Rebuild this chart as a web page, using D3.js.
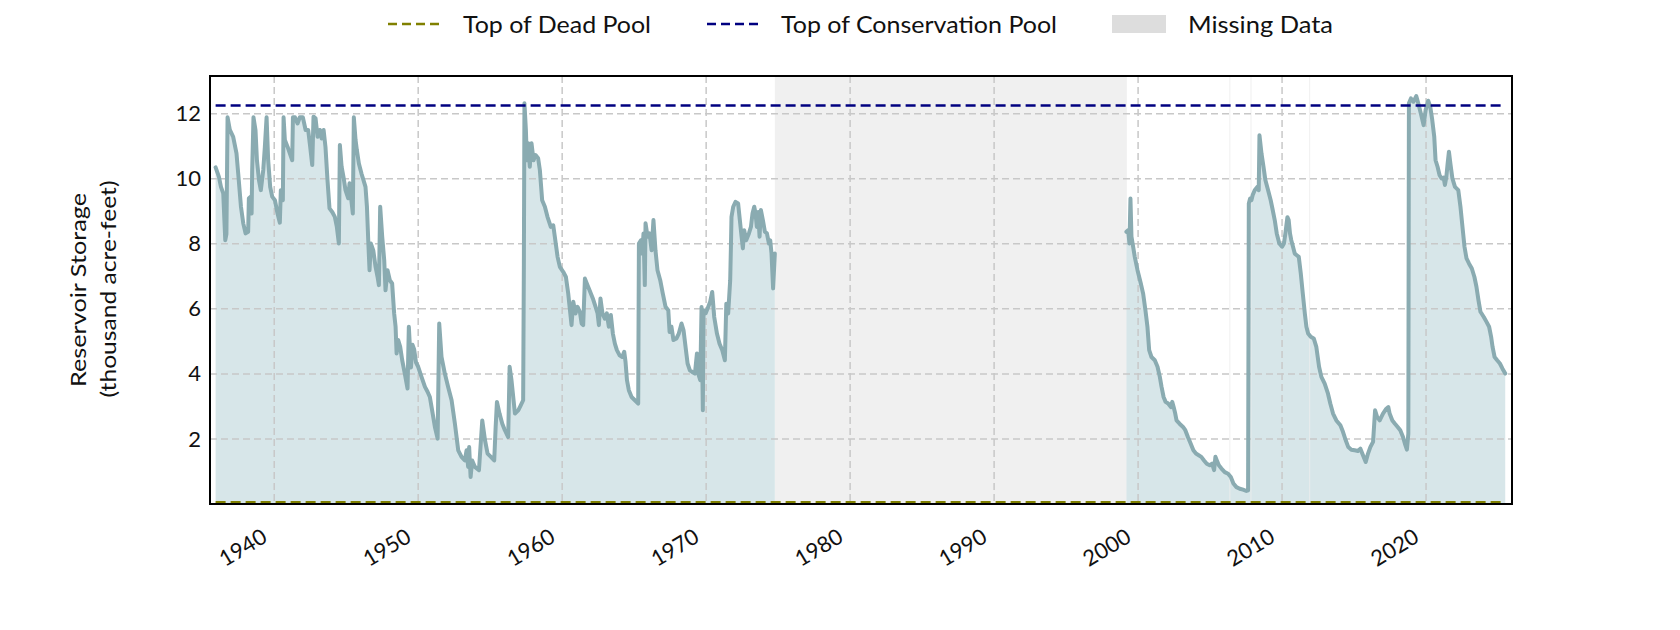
<!DOCTYPE html>
<html>
<head>
<meta charset="utf-8">
<script src="https://cdn.jsdelivr.net/npm/d3@7"></script>
<style>
  body { margin: 0; background: #fff; }
  svg text { font-family: Lato, "Noto Sans", sans-serif; fill: #111; }
</style>
</head>
<body>
<svg id="chart" width="1680" height="630"></svg>
<script>
// reservoir storage, thousand acre-feet: [decimal year, value]
const storageEarly = [
  [1935.93,10.35],[1936.16,10.06],[1936.3,9.75],[1936.46,9.55],[1936.6,8.11],[1936.68,8.3],[1936.76,11.89],
  [1936.92,11.5],[1937.15,11.29],[1937.38,10.78],[1937.5,10.16],[1937.69,9.14],[1937.85,8.63],[1938.01,8.32],
  [1938.19,8.37],[1938.24,9.4],[1938.38,9.45],[1938.43,8.93],[1938.47,10.27],[1938.56,11.89],[1938.7,11.5],
  [1938.8,10.57],[1938.94,9.96],[1939.07,9.65],[1939.24,10.27],[1939.35,10.98],[1939.47,11.89],[1939.58,10.57],
  [1939.72,9.75],[1939.86,9.45],[1940.05,9.34],[1940.23,8.93],[1940.39,8.65],[1940.46,9.65],[1940.6,9.34],
  [1940.65,11.89],[1940.74,11.19],[1940.93,10.98],[1941.25,10.57],[1941.3,11.89],[1941.44,11.89],[1941.62,11.7],
  [1941.78,11.89],[1941.99,11.89],[1942.18,11.5],[1942.36,11.5],[1942.5,10.98],[1942.64,10.42],[1942.73,11.91],
  [1942.87,11.86],[1943.01,11.29],[1943.17,11.5],[1943.29,11.24],[1943.43,11.5],[1943.56,10.98],[1943.7,9.96],
  [1943.84,9.09],[1944.03,8.98],[1944.21,8.83],[1944.35,8.52],[1944.49,8.01],[1944.56,11.04],[1944.68,10.37],
  [1944.81,10.06],[1944.95,9.65],[1945.14,9.4],[1945.23,9.86],[1945.37,9.29],[1945.46,8.93],[1945.53,11.89],
  [1945.65,11.19],[1945.74,10.88],[1945.88,10.47],[1946.06,10.16],[1946.2,9.96],[1946.34,9.75],[1946.44,9.14],
  [1946.53,8.11],[1946.62,7.19],[1946.71,8.01],[1946.88,7.8],[1947.04,7.29],[1947.18,6.98],[1947.27,6.73],
  [1947.36,9.14],[1947.5,8.22],[1947.64,7.5],[1947.73,6.57],[1947.87,7.19],[1948.03,6.88],[1948.19,6.78],
  [1948.33,5.86],[1948.43,5.45],[1948.5,4.63],[1948.61,5.04],[1948.75,4.83],[1948.89,4.42],[1949.07,4.01],
  [1949.26,3.55],[1949.35,5.45],[1949.5,4.2],[1949.6,4.9],[1949.72,4.75],[1949.85,4.35],[1950.0,4.22],
  [1950.23,3.91],[1950.47,3.6],[1950.65,3.45],[1950.81,3.29],[1950.93,2.98],[1951.16,2.37],[1951.35,2.01],
  [1951.46,5.55],[1951.62,4.52],[1951.85,4.01],[1952.08,3.6],[1952.32,3.19],[1952.55,2.47],[1952.78,1.65],
  [1953.01,1.45],[1953.24,1.34],[1953.36,1.65],[1953.47,1.14],[1953.54,1.75],[1953.64,0.83],[1953.75,1.34],
  [1953.94,1.14],[1954.22,1.04],[1954.45,2.57],[1954.64,1.96],[1954.82,1.55],[1955.05,1.45],[1955.28,1.34],
  [1955.38,2.37],[1955.47,3.14],[1955.65,2.78],[1955.84,2.47],[1956.02,2.27],[1956.25,2.06],[1956.35,4.22],
  [1956.48,3.81],[1956.72,2.78],[1956.95,2.88],[1957.13,3.04],[1957.29,3.19],[1957.34,7.39],[1957.38,12.32],
  [1957.48,11.5],[1957.55,10.57],[1957.64,11.09],[1957.75,10.37],[1957.87,11.09],[1958.01,10.57],[1958.15,10.73],
  [1958.33,10.63],[1958.45,10.27],[1958.61,9.34],[1958.8,9.14],[1958.98,8.83],[1959.21,8.52],[1959.38,8.57],
  [1959.49,8.22],[1959.68,7.6],[1959.84,7.29],[1960.07,7.14],[1960.26,6.98],[1960.42,6.47],[1960.54,5.96],
  [1960.65,5.5],[1960.77,6.22],[1960.93,5.86],[1961.07,6.06],[1961.23,5.91],[1961.35,5.55],[1961.46,5.5],
  [1961.58,6.93],[1961.76,6.73],[1961.95,6.52],[1962.13,6.32],[1962.32,6.06],[1962.46,5.86],[1962.55,5.5],
  [1962.66,6.32],[1962.8,5.86],[1962.96,5.7],[1963.1,5.86],[1963.24,5.45],[1963.38,5.81],[1963.52,5.24],
  [1963.66,4.93],[1963.8,4.73],[1963.99,4.57],[1964.17,4.52],[1964.31,4.68],[1964.4,4.37],[1964.5,3.81],
  [1964.63,3.5],[1964.82,3.29],[1965.05,3.19],[1965.28,3.09],[1965.33,8.01],[1965.47,8.11],[1965.56,7.7],
  [1965.65,8.32],[1965.74,6.73],[1965.79,8.63],[1965.93,8.22],[1966.07,8.32],[1966.21,7.8],[1966.34,8.73],
  [1966.48,7.8],[1966.62,7.19],[1966.81,6.88],[1966.99,6.47],[1967.18,6.06],[1967.37,5.96],[1967.46,5.29],
  [1967.59,5.45],[1967.73,5.04],[1967.94,5.09],[1968.1,5.24],[1968.29,5.55],[1968.43,5.34],[1968.57,4.83],
  [1968.71,4.32],[1968.87,4.11],[1969.03,4.06],[1969.22,4.01],[1969.36,4.63],[1969.45,4.01],[1969.59,3.81],
  [1969.68,6.06],[1969.77,2.88],[1969.82,5.96],[1969.96,5.86],[1970.14,6.06],[1970.28,6.22],[1970.42,6.52],
  [1970.56,5.75],[1970.75,5.24],[1970.93,4.93],[1971.12,4.73],[1971.3,4.42],[1971.4,6.16],[1971.53,5.86],
  [1971.67,6.88],[1971.72,7.91],[1971.76,8.83],[1971.88,9.14],[1972.04,9.29],[1972.22,9.24],[1972.34,8.73],
  [1972.46,8.22],[1972.55,7.86],[1972.64,8.42],[1972.78,8.11],[1972.97,8.32],[1973.11,8.52],[1973.22,8.93],
  [1973.34,9.14],[1973.43,8.93],[1973.52,8.52],[1973.61,8.98],[1973.71,8.22],[1973.8,9.04],[1973.94,8.73],
  [1974.08,8.37],[1974.22,8.32],[1974.36,8.01],[1974.45,8.11],[1974.54,7.7],[1974.65,6.63],[1974.77,7.7]
];

const storageRecent = [
  [1999.19,8.37],[1999.31,8.42],[1999.4,8.01],[1999.47,9.39],[1999.54,8.22],[1999.66,7.9],[1999.77,7.6],
  [1999.96,7.19],[2000.19,6.78],[2000.35,6.47],[2000.51,5.96],[2000.65,5.45],[2000.77,4.73],[2000.93,4.52],
  [2001.16,4.42],[2001.35,4.22],[2001.51,3.91],[2001.63,3.6],[2001.77,3.29],[2001.91,3.14],[2002.09,3.09],
  [2002.28,2.98],[2002.37,3.14],[2002.47,2.98],[2002.58,2.78],[2002.67,2.57],[2002.88,2.47],[2003.12,2.37],
  [2003.28,2.27],[2003.46,2.06],[2003.65,1.86],[2003.84,1.65],[2004.02,1.55],[2004.21,1.5],[2004.39,1.45],
  [2004.58,1.34],[2004.77,1.24],[2004.98,1.19],[2005.14,1.24],[2005.28,1.04],[2005.37,1.45],[2005.47,1.34],
  [2005.61,1.19],[2005.79,1.09],[2006.02,0.98],[2006.25,0.93],[2006.44,0.83],[2006.62,0.63],[2006.83,0.52],
  [2007.06,0.47],[2007.29,0.44],[2007.52,0.4],[2007.64,0.42],[2007.69,9.24],[2007.78,9.39],[2007.87,9.34],
  [2007.96,9.5],[2008.1,9.65],[2008.28,9.75],[2008.38,9.65],[2008.43,11.34],[2008.57,10.78],[2008.71,10.37],
  [2008.84,9.96],[2009.03,9.65],[2009.21,9.34],[2009.35,9.04],[2009.49,8.73],[2009.63,8.32],[2009.81,8.01],
  [2010.0,7.91],[2010.13,8.01],[2010.23,8.32],[2010.37,8.82],[2010.46,8.73],[2010.55,8.32],[2010.64,8.11],
  [2010.76,7.91],[2010.88,7.7],[2011.02,7.65],[2011.16,7.6],[2011.3,7.09],[2011.44,6.47],[2011.58,5.86],
  [2011.69,5.45],[2011.81,5.24],[2011.99,5.14],[2012.2,5.09],[2012.38,4.83],[2012.57,4.22],[2012.73,3.91],
  [2012.96,3.7],[2013.19,3.39],[2013.35,3.09],[2013.54,2.78],[2013.77,2.57],[2014.05,2.42],[2014.23,2.22],
  [2014.42,1.96],[2014.6,1.75],[2014.81,1.67],[2015.04,1.65],[2015.27,1.63],[2015.44,1.7],[2015.62,1.5],
  [2015.81,1.29],[2015.97,1.55],[2016.13,1.75],[2016.32,1.91],[2016.46,2.88],[2016.6,2.68],[2016.78,2.57],
  [2017.01,2.78],[2017.24,2.93],[2017.38,2.98],[2017.47,2.78],[2017.66,2.57],[2017.84,2.47],[2018.03,2.37],
  [2018.21,2.27],[2018.4,2.06],[2018.53,1.86],[2018.67,1.67],[2018.77,2.16],[2018.81,12.32],[2018.95,12.47],
  [2019.13,12.37],[2019.32,12.54],[2019.46,12.32],[2019.64,12.01],[2019.83,11.65],[2019.97,12.11],[2020.15,12.4],
  [2020.29,12.22],[2020.43,11.81],[2020.57,11.29],[2020.66,10.57],[2020.8,10.37],[2020.94,10.11],[2021.08,10.01],
  [2021.22,10.04],[2021.31,9.81],[2021.41,10.06],[2021.5,10.47],[2021.59,10.83],[2021.69,10.47],[2021.83,10.01],
  [2022.01,9.75],[2022.24,9.65],[2022.39,9.14],[2022.53,8.52],[2022.67,7.91],[2022.81,7.55],[2022.99,7.39],
  [2023.18,7.24],[2023.36,6.98],[2023.5,6.68],[2023.64,6.27],[2023.78,5.91],[2024.01,5.75],[2024.2,5.6],
  [2024.38,5.45],[2024.52,5.14],[2024.62,4.83],[2024.76,4.52],[2024.94,4.42],[2025.13,4.32],[2025.31,4.16],
  [2025.5,4.01]
];

const missingSpans = [[1974.77, 1999.22]];
const missingMonths = [2006.33, 2007.8, 2011.87];
const deadPool = 0.05;
const conservationPool = 12.25;
const xTicks = [1940, 1950, 1960, 1970, 1980, 1990, 2000, 2010, 2020];
const xTickLabels = ["1940", "1950", "1960", "1970", "1980", "1990", "2000", "2010", "2020"];
const yTicks = [2, 4, 6, 8, 10, 12];
const yTickLabels = ["2", "4", "6", "8", "10", "12"];
const legendLabels = ["Top of Dead Pool", "Top of Conservation Pool", "Missing Data"];

const svg = d3.select("#chart");
const plotLeft = 210, plotRight = 1512, plotTop = 76, plotBottom = 504;

const x = d3.scaleLinear().domain([1935.54, 2025.97]).range([plotLeft, plotRight]);
const y = d3.scaleLinear().domain([0, 13.16]).range([plotBottom, plotTop]);

const lineColor = "#8aabb1";
const fillColor = "#d7e6e9";
const dataStart = storageEarly[0][0];
const dataEnd = storageRecent[storageRecent.length - 1][0];

// missing data spans
svg.selectAll("rect.missing")
  .data(missingSpans)
  .join("rect")
  .attr("class", "missing")
  .attr("x", d => x(d[0]))
  .attr("y", plotTop)
  .attr("width", d => x(d[1]) - x(d[0]))
  .attr("height", plotBottom - plotTop)
  .attr("fill", "#f0f0f0");

// filled storage
const area = d3.area()
  .x(d => x(d[0]))
  .y0(y(0))
  .y1(d => y(d[1]));

[storageEarly, storageRecent].forEach(seg => {
  svg.append("path")
    .datum(seg)
    .attr("fill", fillColor)
    .attr("d", area);
});

// single missing months
svg.selectAll("rect.gap")
  .data(missingMonths)
  .join("rect")
  .attr("class", "gap")
  .attr("x", d => x(d))
  .attr("y", plotTop)
  .attr("width", 1.2)
  .attr("height", plotBottom - plotTop)
  .attr("fill", "#ececec")
  .attr("opacity", 0.7);

// grid
const grid = svg.append("g")
  .attr("stroke", "#c8c8c8")
  .attr("stroke-width", 1.5)
  .attr("stroke-dasharray", "7,4");
grid.selectAll("line.gx")
  .data(xTicks)
  .join("line")
  .attr("class", "gx")
  .attr("x1", d => x(d)).attr("x2", d => x(d))
  .attr("y1", plotTop).attr("y2", plotBottom);
grid.selectAll("line.gy")
  .data(yTicks)
  .join("line")
  .attr("class", "gy")
  .attr("x1", plotLeft).attr("x2", plotRight)
  .attr("y1", d => y(d)).attr("y2", d => y(d));

// storage line
const line = d3.line()
  .x(d => x(d[0]))
  .y(d => y(d[1]));

[storageEarly, storageRecent].forEach(seg => {
  svg.append("path")
    .datum(seg)
    .attr("fill", "none")
    .attr("stroke", lineColor)
    .attr("stroke-width", 4)
    .attr("stroke-linejoin", "round")
    .attr("stroke-linecap", "round")
    .attr("d", line);
});

// pool levels
const drawPool = (level, color) => {
  svg.append("line")
    .attr("x1", x(dataStart))
    .attr("x2", x(dataEnd))
    .attr("y1", y(level))
    .attr("y2", y(level))
    .attr("stroke", color)
    .attr("stroke-width", 2.5)
    .attr("stroke-dasharray", "10,5");
};
drawPool(deadPool, "#808000");
drawPool(conservationPool, "#000080");

// frame
svg.append("rect")
  .attr("x", plotLeft).attr("y", plotTop)
  .attr("width", plotRight - plotLeft).attr("height", plotBottom - plotTop)
  .attr("fill", "none")
  .attr("stroke", "#000")
  .attr("stroke-width", 2);

// axes
const xAxis = svg.append("g")
  .attr("transform", `translate(0,${plotBottom})`)
  .call(d3.axisBottom(x).tickValues(xTicks).tickSize(0)
    .tickFormat((d, i) => xTickLabels[i]));
xAxis.select(".domain").remove();
xAxis.selectAll("text")
  .attr("x", 0).attr("y", 0).attr("dy", 0)
  .attr("transform", "translate(-6,37) rotate(-31)")
  .attr("text-anchor", "end")
  .style("font-size", "22px");

const yAxis = svg.append("g")
  .attr("transform", `translate(${plotLeft},0)`)
  .call(d3.axisLeft(y).tickValues(yTicks).tickSize(0).tickPadding(9)
    .tickFormat((d, i) => yTickLabels[i]));
yAxis.select(".domain").remove();
yAxis.selectAll("text").style("font-size", "22px");

// y label
svg.append("text")
  .attr("transform", "translate(77,290) rotate(-90)")
  .attr("text-anchor", "middle")
  .attr("dominant-baseline", "central")
  .attr("textLength", 194)
  .attr("lengthAdjust", "spacingAndGlyphs")
  .style("font-size", "22px")
  .text("Reservoir Storage");
svg.append("text")
  .attr("transform", "translate(107,289) rotate(-90)")
  .attr("text-anchor", "middle")
  .attr("dominant-baseline", "central")
  .attr("textLength", 217)
  .attr("lengthAdjust", "spacingAndGlyphs")
  .style("font-size", "22px")
  .text("(thousand acre-feet)");

// legend
const legend = svg.append("g");
const legendY = 24;
const legendItems = [
  { label: legendLabels[0], kind: "line", color: "#808000", x0: 388, tx: 463, w: 188 },
  { label: legendLabels[1], kind: "line", color: "#000080", x0: 707, tx: 781, w: 276 },
  { label: legendLabels[2], kind: "patch", color: "#dddddd", x0: 1112, tx: 1188, w: 145 }
];
legendItems.forEach(d => {
  if (d.kind === "line") {
    legend.append("line")
      .attr("x1", d.x0).attr("x2", d.x0 + 52)
      .attr("y1", legendY).attr("y2", legendY)
      .attr("stroke", d.color)
      .attr("stroke-width", 2.5)
      .attr("stroke-dasharray", "9,5");
  } else {
    legend.append("rect")
      .attr("x", d.x0).attr("y", legendY - 9)
      .attr("width", 54).attr("height", 18)
      .attr("fill", d.color);
  }
  legend.append("text")
    .attr("x", d.tx).attr("y", legendY)
    .attr("dominant-baseline", "central")
    .attr("textLength", d.w)
    .attr("lengthAdjust", "spacingAndGlyphs")
    .style("font-size", "23px")
    .text(d.label);
});
</script>
</body>
</html>
